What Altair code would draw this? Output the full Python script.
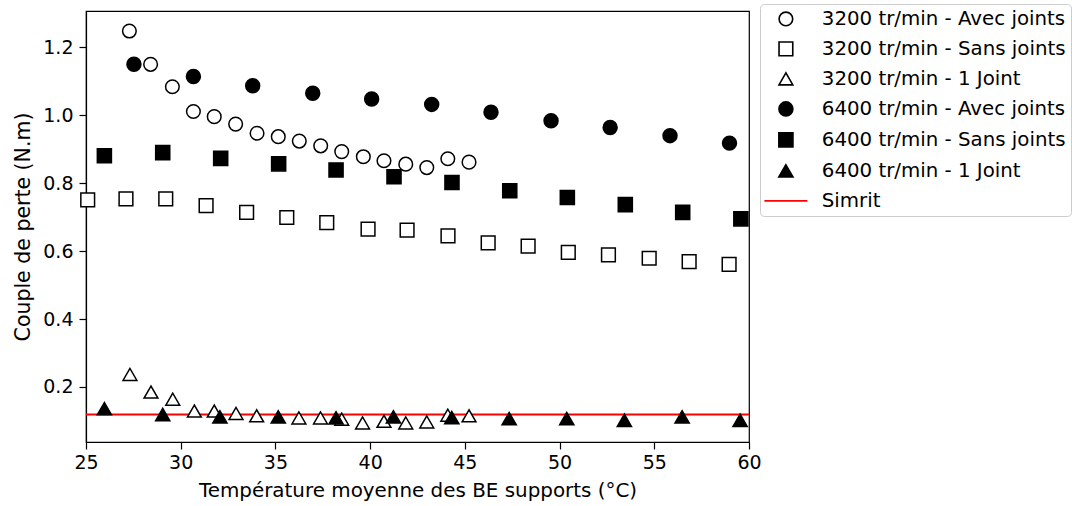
import altair as alt
import pandas as pd

series_names = [
    "3200 tr/min - Avec joints",
    "3200 tr/min - Sans joints",
    "3200 tr/min - 1 Joint",
    "6400 tr/min - Avec joints",
    "6400 tr/min - Sans joints",
    "6400 tr/min - 1 Joint",
    "Simrit",
]

t_3200_avec = [27.29, 28.41, 29.56, 30.67, 31.77, 32.90, 34.03, 35.15, 36.26, 37.39, 38.50, 39.64, 40.73, 41.88, 42.99, 44.10, 45.22]
c_3200_avec = [1.248, 1.150, 1.084, 1.011, 0.996, 0.974, 0.947, 0.937, 0.924, 0.910, 0.893, 0.878, 0.866, 0.856, 0.846, 0.872, 0.862]

t_3200_sans = [25.09, 27.11, 29.21, 31.34, 33.48, 35.60, 37.71, 39.89, 41.95, 44.11, 46.23, 48.34, 50.46, 52.58, 54.73, 56.84, 58.95]
c_3200_sans = [0.751, 0.754, 0.754, 0.734, 0.714, 0.699, 0.684, 0.665, 0.662, 0.645, 0.624, 0.615, 0.596, 0.589, 0.579, 0.569, 0.561]

t_3200_1j = [27.32, 28.43, 29.58, 30.72, 31.77, 32.92, 34.01, 36.24, 37.38, 38.50, 39.60, 40.73, 41.88, 42.99, 44.10, 45.22]
c_3200_1j = [0.237, 0.185, 0.164, 0.129, 0.129, 0.122, 0.115, 0.109, 0.109, 0.105, 0.094, 0.099, 0.094, 0.097, 0.117, 0.115]

t_6400_avec = [27.53, 30.67, 33.80, 36.97, 40.08, 43.25, 46.38, 49.55, 52.67, 55.83, 58.97]
c_6400_avec = [1.150, 1.114, 1.087, 1.065, 1.048, 1.032, 1.009, 0.984, 0.964, 0.940, 0.918]

t_6400_sans = [25.97, 29.05, 32.11, 35.17, 38.20, 41.26, 44.32, 47.37, 50.41, 53.47, 56.50, 59.57]
c_6400_sans = [0.881, 0.890, 0.873, 0.857, 0.839, 0.819, 0.802, 0.778, 0.758, 0.737, 0.714, 0.695]

t_6400_1j = [25.97, 29.05, 32.07, 35.15, 38.20, 41.23, 44.31, 47.34, 50.38, 53.42, 56.47, 59.53]
c_6400_1j = [0.136, 0.119, 0.112, 0.112, 0.109, 0.112, 0.110, 0.107, 0.107, 0.102, 0.112, 0.102]

simrit_value = [0.119]

x_ticks = [25, 30, 35, 40, 45, 50, 55, 60]
y_ticks = [0.2, 0.4, 0.6, 0.8, 1.0, 1.2]

# "M-3,0H3": a horizontal line three symbol-widths long, used for the Simrit legend entry
shape_range = ["circle", "square", "triangle-up", "circle", "square", "triangle-up", "M-3,0H3"]
fill_range = ["white", "white", "white", "black", "black", "black", "transparent"]
stroke_range = ["black"] * 6 + ["red"]
size_range = [185, 205, 240, 185, 205, 240, 200]

rows = []
for name, ts, cs in [
    (series_names[0], t_3200_avec, c_3200_avec),
    (series_names[1], t_3200_sans, c_3200_sans),
    (series_names[2], t_3200_1j, c_3200_1j),
    (series_names[3], t_6400_avec, c_6400_avec),
    (series_names[4], t_6400_sans, c_6400_sans),
    (series_names[5], t_6400_1j, c_6400_1j),
]:
    for t, c in zip(ts, cs):
        rows.append({"T": t, "C": c, "serie": name})
points_df = pd.DataFrame(rows)
line_df = pd.DataFrame({"C": simrit_value})

FONT = "DejaVu Sans"

x_enc = alt.X(
    "T:Q",
    scale=alt.Scale(domain=[25, 60], nice=False, zero=False),
    axis=alt.Axis(values=x_ticks, labelFlush=False,
                  title="Température moyenne des BE supports (°C)", titleFontSize=19.9),
)
y_scale = alt.Scale(domain=[0.038, 1.307], nice=False, zero=False)

sdom = series_names
legend_def = alt.Legend(title=None)

simrit = alt.Chart(line_df).mark_rule(color="red", strokeWidth=2).encode(
    y=alt.Y("C:Q", scale=y_scale)
)

points = alt.Chart(points_df).mark_point(filled=False, strokeWidth=1.5, opacity=1).encode(
    x=x_enc,
    y=alt.Y("C:Q", scale=y_scale,
            axis=alt.Axis(values=y_ticks, format=".1f", labelFlush=False,
                          title="Couple de perte (N.m)", titleFontSize=20.5)),
    shape=alt.Shape("serie:N", scale=alt.Scale(domain=sdom, range=shape_range), legend=legend_def),
    fill=alt.Fill("serie:N", scale=alt.Scale(domain=sdom, range=fill_range), legend=legend_def),
    stroke=alt.Stroke("serie:N", scale=alt.Scale(domain=sdom, range=stroke_range), legend=legend_def),
    size=alt.Size("serie:N", scale=alt.Scale(domain=sdom, range=size_range), legend=legend_def),
)

chart = (
    alt.layer(simrit, points)
    .properties(
        width=663,
        height=431,
        autosize=alt.AutoSizeParams(type="none"),
        padding={"left": 86, "top": 11, "right": 323, "bottom": 64},
    )
    .configure_view(stroke="black", strokeWidth=1.2)
    .configure_axis(
        grid=False,
        domainColor="black",
        domainWidth=1.2,
        tickColor="black",
        tickWidth=1.2,
        tickSize=7,
        labelFont=FONT,
        labelFontSize=19,
        labelColor="black",
        titleFont=FONT,
        titleFontSize=19.5,
        titleFontWeight="normal",
        titleColor="black",
    )
    .configure_axisX(labelPadding=4, titlePadding=8)
    .configure_axisY(labelPadding=6, titlePadding=9)
    .configure_legend(
        orient="none",
        legendX=674,
        legendY=-7,
        strokeColor="#cccccc",
        fillColor="white",
        cornerRadius=4,
        padding=5,
        labelFont=FONT,
        labelFontSize=19.8,
        labelColor="black",
        symbolSize=200,
        symbolOffset=11,
        labelOffset=26,
        rowPadding=9,
        symbolStrokeWidth=1.6,
        labelLimit=400,
    )
)

chart.save("out.html", embed_options={"renderer": "svg", "actions": False})
